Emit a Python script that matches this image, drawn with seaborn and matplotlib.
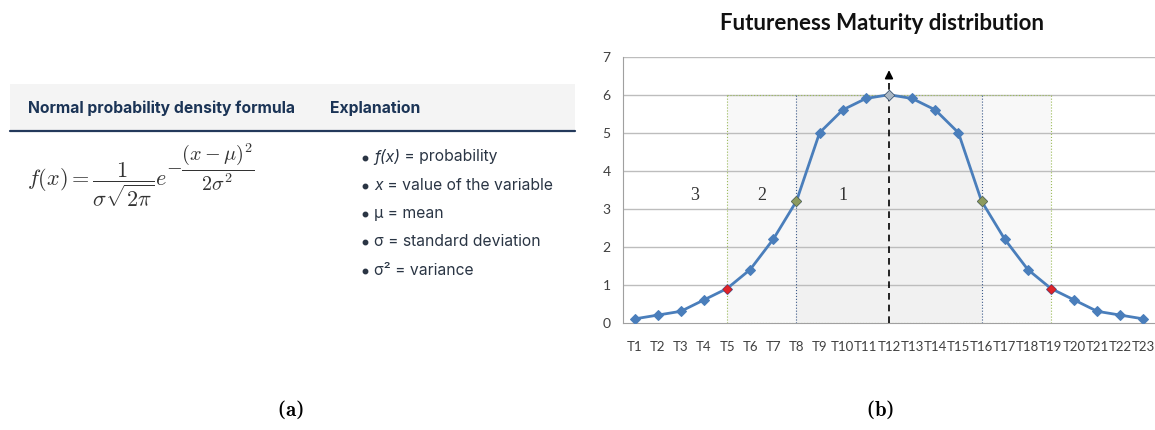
import numpy as np
import pandas as pd
import seaborn as sns
import matplotlib.pyplot as plt
from matplotlib.patches import Rectangle

# panel (b) data
periods = ['T1', 'T2', 'T3', 'T4', 'T5', 'T6', 'T7', 'T8', 'T9', 'T10', 'T11', 'T12',
           'T13', 'T14', 'T15', 'T16', 'T17', 'T18', 'T19', 'T20', 'T21', 'T22', 'T23']
maturity = [0.1, 0.2, 0.3, 0.6, 0.9, 1.4, 2.2, 3.2, 5.0, 5.6, 5.9, 6.0,
            5.9, 5.6, 5.0, 3.2, 2.2, 1.4, 0.9, 0.6, 0.3, 0.2, 0.1]
y_ticks = [0, 1, 2, 3, 4, 5, 6, 7]
red_points = ['T5', 'T19']
olive_points = ['T8', 'T16']
peak_point = 'T12'
outer_zone = ['T5', 'T19']
inner_zone = ['T8', 'T16']
zone_top = 6
zone_names = ['3', '2', '1']

# panel (a) text
header = ['Normal probability density formula', 'Explanation']
bullets = [('f(x)', ' = probability'),
           ('x', ' = value of the variable'),
           ('', 'μ = mean'),
           ('', 'σ = standard deviation'),
           ('', 'σ² = variance')]

sns.set_style('white')
plt.rcParams['font.family'] = ['Lato', 'DejaVu Sans']
plt.rcParams['mathtext.fontset'] = 'cm'

df = pd.DataFrame({'period': periods, 'maturity': maturity})
df['pos'] = np.arange(1, len(periods) + 1)
pos = dict(zip(df['period'], df['pos']))

fig = plt.figure(figsize=(11.55, 4.30), dpi=100)

# overlay in pixel coords for panel (a) and captions
ov = fig.add_axes([0, 0, 1, 1])
ov.set_xlim(0, 1155)
ov.set_ylim(430, 0)
ov.axis('off')

ov.add_patch(Rectangle((10, 84), 565, 47, color='#f4f4f4', lw=0))
ov.plot([10, 575], [131, 131], color='#23395b', lw=1.6)
hdr_kw = dict(family=['Inter', 'DejaVu Sans'], fontweight='bold', fontsize=11.3,
              color='#1b3456', va='center')
ov.text(28, 108, header[0], **hdr_kw)
ov.text(330, 108, header[1], **hdr_kw)

ov.text(27, 185, r'$f(x) = \dfrac{1}{\sigma\sqrt{2\pi}}e$', fontsize=16,
        color='#333333', va='center')
ov.text(166, 167, r'$-\dfrac{(x-\mu)^2}{2\sigma^2}$', fontsize=14.5,
        color='#333333', va='center')

txt_kw = dict(family=['Inter', 'DejaVu Sans'], fontsize=11.3, color='#2a3544')
for i, (it, rest) in enumerate(bullets):
    y = 157 + i * 28.3
    ov.plot(365, y + 0.5, 'o', ms=3.2, color='#2a3544')
    if it:
        t = ov.text(374, y, it, va='center', style='italic', **txt_kw)
        ov.annotate(rest, xy=(1, 0.5), xycoords=t, va='center', **txt_kw)
    else:
        ov.text(374, y, rest, va='center', **txt_kw)

cap_kw = dict(family=['DejaVu Serif'], fontsize=15, color='black', ha='center', va='center')
ov.text(290, 410, r'($\mathbf{a}$)', **cap_kw)
ov.text(880, 410, r'($\mathbf{b}$)', **cap_kw)

# panel (b)
ax = fig.add_axes([623 / 1155, (430 - 322.7) / 430, 532 / 1155, 266 / 430])
ax.set_facecolor('none')

x0, x1 = pos[outer_zone[0]], pos[outer_zone[1]]
i0, i1 = pos[inner_zone[0]], pos[inner_zone[1]]
ax.fill_between([x0, x1], 0, zone_top, color='#f8f8f8', lw=0, zorder=0)
ax.fill_between([i0, i1], 0, zone_top, color='#f1f1f1', lw=0, zorder=0)
for xv in (x0, x1):
    ax.plot([xv, xv], [0, zone_top], color='#9bbb59', lw=0.8, ls=':', zorder=1)
ax.plot([x0, x1], [zone_top, zone_top], color='#9bbb59', lw=0.8, ls=':', zorder=1)
ax.plot([x0, x1], [0, 0], color='#9bbb59', lw=0.8, ls=':', zorder=3)
for xv in (i0, i1):
    ax.plot([xv, xv], [0, zone_top], color='#3d5a8a', lw=0.8, ls=':', zorder=1)

for yv in y_ticks[1:]:
    ax.axhline(yv, color='#bdbdbd', lw=1, zorder=0.5)

pk = pos[peak_point]
ax.plot([pk, pk], [0, 6.45], color='black', lw=1.2, ls=(0, (4, 3)), zorder=4)
ax.annotate('', xy=(pk, 6.72), xytext=(pk, 6.4),
            arrowprops=dict(arrowstyle='-|>', color='black', lw=1.2,
                            mutation_scale=12), zorder=4)

sns.lineplot(data=df, x='pos', y='maturity', color='#4a7ebb', lw=2, marker='D',
             markersize=5, markeredgecolor='#4a7ebb', ax=ax, zorder=5)
sns.scatterplot(data=df[df['period'].isin(red_points)], x='pos', y='maturity',
                color='#e0242a', marker='D', s=22, edgecolor='#c01010', ax=ax, zorder=6)
sns.scatterplot(data=df[df['period'].isin(olive_points)], x='pos', y='maturity',
                color='#8c9a5e', marker='D', s=28, edgecolor='#5a6040', ax=ax, zorder=6)
sns.scatterplot(data=df[df['period'] == peak_point], x='pos', y='maturity',
                color='#aab7c4', marker='D', s=28, edgecolor='#3f4f5f', ax=ax, zorder=6)

for name, xv in zip(zone_names, [3.6, 6.5, 10.0]):
    ax.text(xv, 3.35, name, family=['Liberation Serif', 'DejaVu Serif'], fontsize=13,
            ha='center', va='center', color='#333333', zorder=7)

ax.set_xlim(0.5, 0.5 + 532 / 23.3)
ax.set_ylim(0, 7)
ax.set_xticks(df['pos'])
ax.set_xticklabels(periods)
ax.set_xticks(np.arange(0.5, 24, 1), minor=True)
ax.set_yticks(y_ticks)
ax.tick_params(axis='x', which='major', length=0, pad=13, labelsize=9.5, labelcolor='#404040')
ax.tick_params(axis='x', which='minor', length=4, color='#a0a0a0', width=0.8, direction='out')
ax.tick_params(axis='y', length=3, color='#a0a0a0', labelsize=10, labelcolor='#404040', pad=6)
ax.set_xlabel('')
ax.set_ylabel('')
for side in ('top', 'right'):
    ax.spines[side].set_visible(False)
ax.spines['left'].set_color('#a0a0a0')
ax.spines['bottom'].set_color('#a0a0a0')
ax.spines['left'].set_linewidth(0.8)
ax.spines['bottom'].set_linewidth(0.8)
legend = ax.get_legend()
if legend:
    legend.remove()

ov.text(882, 23, 'Futureness Maturity distribution', fontsize=16, fontweight='bold',
        color='#111111', ha='center', va='center')

fig.savefig('out.png', dpi=100)
